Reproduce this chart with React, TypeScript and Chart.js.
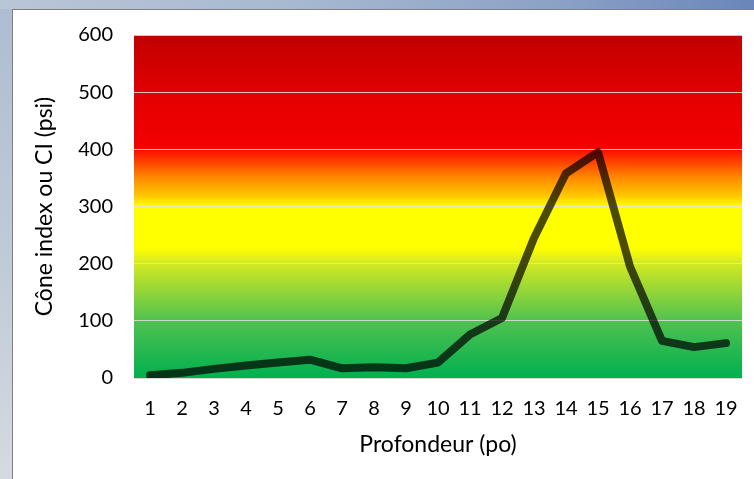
import React, { useEffect, useRef } from "react";
import { Chart, registerables } from "chart.js";

Chart.register(...registerables);

const depths = ["1", "2", "3", "4", "5", "6", "7", "8", "9", "10", "11", "12", "13", "14", "15", "16", "17", "18", "19"];
const coneIndex = [5, 9, 16, 22, 27, 32, 17, 19, 17, 27, 76, 105, 245, 358, 395, 195, 65, 54, 61];
const yMin = 0;
const yMax = 600;
const yStep = 100;

// background zone colours, keyed by psi value
const zoneValues = [0, 100, 200, 228, 300, 320, 350, 385, 405, 500, 600];
const zoneColors = ["#00b050", "#50c150", "#d2e822", "#ffff00", "#ffff00", "#ffc400", "#ff8a00", "#ff3000", "#f40000", "#e20000", "#c00000"];

const FONT = "Lato, 'Open Sans', sans-serif";

const zonePlugin = {
  id: "zones",
  beforeDraw(chart: any) {
    const { ctx, chartArea: a, scales } = chart;
    const y = scales.y;
    const y0 = y.getPixelForValue(yMin);
    const y1 = y.getPixelForValue(yMax);
    const g = ctx.createLinearGradient(0, y0, 0, y1);
    zoneValues.forEach((v, i) => g.addColorStop((v - yMin) / (yMax - yMin), zoneColors[i]));
    ctx.save();
    ctx.fillStyle = g;
    ctx.fillRect(a.left, a.top, a.right - a.left, a.bottom - a.top);
    ctx.restore();
  },
};

export default function App() {
  const ref = useRef<HTMLCanvasElement | null>(null);

  useEffect(() => {
    document.body.style.margin = "0";
    const chart = new Chart(ref.current as HTMLCanvasElement, {
      type: "line",
      data: {
        labels: depths,
        datasets: [
          {
            data: coneIndex,
            borderColor: "rgba(0,0,0,0.7)",
            borderWidth: 8,
            pointRadius: 0,
            tension: 0,
            borderCapStyle: "round",
            borderJoinStyle: "round",
            fill: false,
          },
        ],
      },
      options: {
        animation: false,
        responsive: true,
        maintainAspectRatio: false,
        layout: { padding: { top: 25, right: 12, left: 0, bottom: 0 } },
        plugins: { legend: { display: false }, tooltip: { enabled: false } },
        scales: {
          x: {
            offset: true,
            grid: { display: false, drawTicks: true, tickLength: 19, tickColor: "rgba(0,0,0,0)" },
            border: { display: true, color: "rgba(215,215,215,0.9)", width: 1 },
            ticks: { color: "#000", font: { family: FONT, size: 20 }, padding: 0, maxRotation: 0, autoSkip: false },
            title: { display: true, text: "Profondeur (po)", color: "#000", font: { family: FONT, size: 23 }, padding: { top: 0, bottom: 21 } },
            afterFit(scale: any) {
              scale.height = 101;
            },
          },
          y: {
            min: yMin,
            max: yMax,
            grid: { color: "rgba(225,225,225,0.85)", lineWidth: 1, drawTicks: true, tickLength: 21, tickColor: "rgba(0,0,0,0)" },
            border: { display: false },
            ticks: { stepSize: yStep, color: "#000", font: { family: FONT, size: 20 }, padding: 0 },
            title: { display: true, text: "Cône index ou CI (psi)", color: "#000", font: { family: FONT, size: 23 }, padding: { top: 18, bottom: 0 } },
            afterFit(scale: any) {
              scale.width = 121;
            },
          },
        },
      },
      plugins: [zonePlugin],
    });
    return () => chart.destroy();
  }, []);

  return (
    <div
      style={{
        position: "fixed",
        left: 0,
        top: 0,
        width: 754,
        height: 479,
        overflow: "hidden",
        background: "linear-gradient(to right, #b9c6d7 0%, #a7b8d0 40%, #8aa0c6 75%, #6a86ba 100%)",
      }}
    >
      <div
        style={{
          position: "absolute",
          left: 0,
          top: 9,
          width: 12,
          height: 470,
          background: "linear-gradient(to bottom, #aebdd2 0%, #c3ccd8 60%, #d6dae0 100%)",
        }}
      />
      <div
        style={{
          position: "absolute",
          left: 12,
          top: 9,
          width: 742,
          height: 470,
          background: "#fff",
          borderLeft: "1px solid #7f7f7f",
          borderTop: "1px solid #7f7f7f",
          boxSizing: "border-box",
        }}
      >
        <div style={{ position: "absolute", left: 0, top: 0, width: 741, height: 469 }}>
          <canvas ref={ref} />
        </div>
      </div>
    </div>
  );
}
